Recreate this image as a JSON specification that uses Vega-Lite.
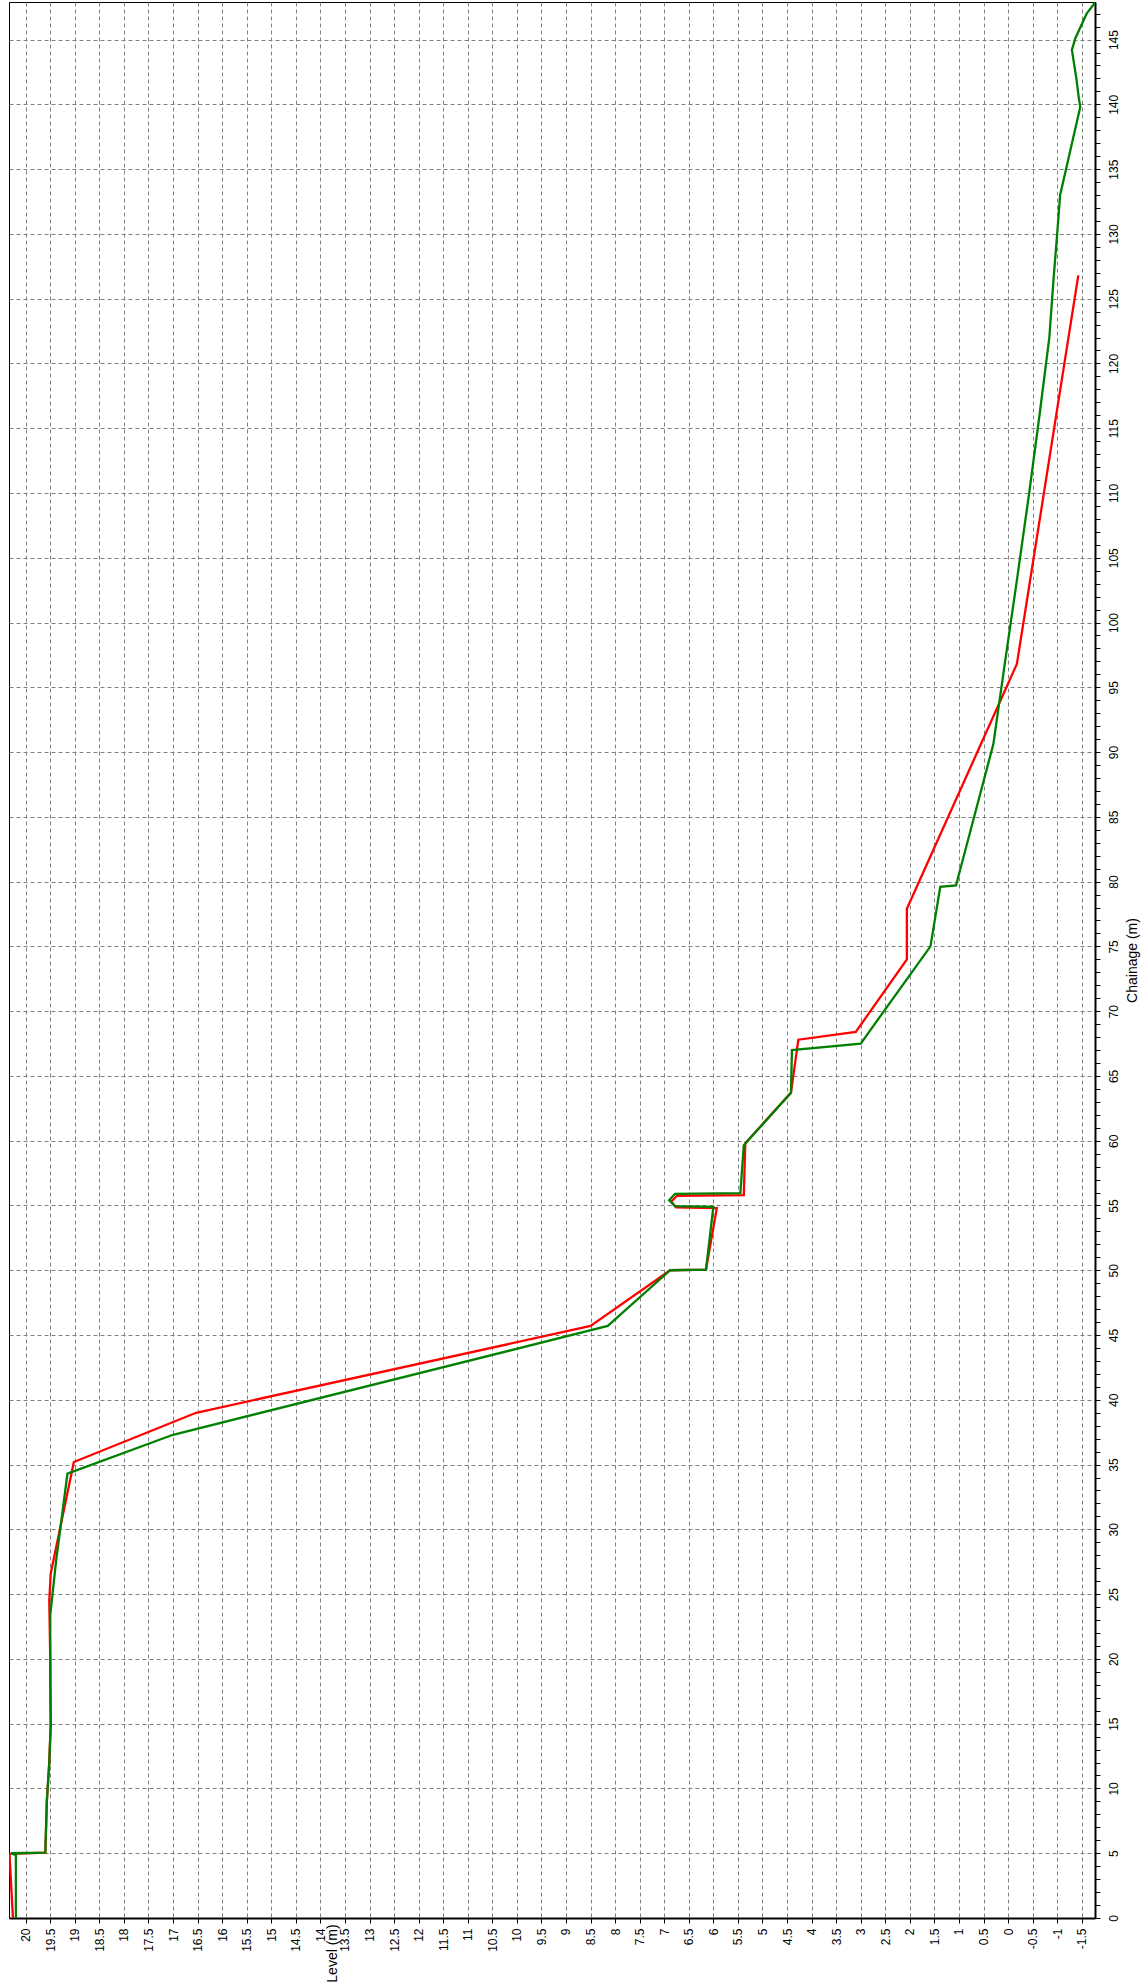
{
  "$schema": "https://vega.github.io/schema/vega-lite/v6.json",
  "width": 1086,
  "height": 1916,
  "autosize": {"type": "none"},
  "padding": {"left": 9, "top": 2, "right": 53, "bottom": 66},
  "background": "white",
  "config": {
    "view": {"stroke": "black", "strokeWidth": 1},
    "font": "Liberation Sans"
  },
  "datasets": {
    "red": [
      {"i": 1, "c": 0, "l": 20.26}, {"i": 2, "c": 4.95, "l": 20.33}, {"i": 3, "c": 5.05, "l": 19.6},
      {"i": 4, "c": 9, "l": 19.57}, {"i": 5, "c": 12, "l": 19.52}, {"i": 6, "c": 15, "l": 19.49},
      {"i": 7, "c": 20, "l": 19.5}, {"i": 8, "c": 24.5, "l": 19.52}, {"i": 9, "c": 26.6, "l": 19.49},
      {"i": 10, "c": 35.2, "l": 19.02}, {"i": 11, "c": 39.0, "l": 16.53}, {"i": 12, "c": 45.7, "l": 8.5},
      {"i": 13, "c": 50.0, "l": 6.88}, {"i": 14, "c": 50.05, "l": 6.15}, {"i": 15, "c": 54.8, "l": 5.93},
      {"i": 16, "c": 54.85, "l": 6.76}, {"i": 17, "c": 55.3, "l": 6.86}, {"i": 18, "c": 55.75, "l": 6.74},
      {"i": 19, "c": 55.8, "l": 5.38}, {"i": 20, "c": 59.8, "l": 5.35}, {"i": 21, "c": 63.7, "l": 4.42},
      {"i": 22, "c": 67.8, "l": 4.27}, {"i": 23, "c": 68.4, "l": 3.1}, {"i": 24, "c": 74.0, "l": 2.06},
      {"i": 25, "c": 77.9, "l": 2.06}, {"i": 26, "c": 96.8, "l": -0.18}, {"i": 27, "c": 126.8, "l": -1.43}
    ],
    "green": [
      {"i": 1, "c": 0, "l": 20.2}, {"i": 2, "c": 4.85, "l": 20.2}, {"i": 3, "c": 5.0, "l": 20.3},
      {"i": 4, "c": 5.05, "l": 19.6}, {"i": 5, "c": 9, "l": 19.57}, {"i": 6, "c": 12, "l": 19.52},
      {"i": 7, "c": 15, "l": 19.49}, {"i": 8, "c": 18, "l": 19.5}, {"i": 9, "c": 23.4, "l": 19.5},
      {"i": 10, "c": 27.6, "l": 19.38}, {"i": 11, "c": 34.3, "l": 19.15}, {"i": 12, "c": 37.3, "l": 17.0},
      {"i": 13, "c": 45.7, "l": 8.15}, {"i": 14, "c": 50.0, "l": 6.88}, {"i": 15, "c": 50.05, "l": 6.15},
      {"i": 16, "c": 54.9, "l": 6.0}, {"i": 17, "c": 54.95, "l": 6.78}, {"i": 18, "c": 55.4, "l": 6.9},
      {"i": 19, "c": 55.9, "l": 6.78}, {"i": 20, "c": 55.95, "l": 5.45}, {"i": 21, "c": 59.65, "l": 5.38},
      {"i": 22, "c": 63.7, "l": 4.42}, {"i": 23, "c": 67.0, "l": 4.4}, {"i": 24, "c": 67.5, "l": 3.0},
      {"i": 25, "c": 75.0, "l": 1.58}, {"i": 26, "c": 79.6, "l": 1.38}, {"i": 27, "c": 79.7, "l": 1.06},
      {"i": 28, "c": 90.6, "l": 0.3}, {"i": 29, "c": 97, "l": 0.06}, {"i": 30, "c": 103, "l": -0.17},
      {"i": 31, "c": 110, "l": -0.43}, {"i": 32, "c": 116, "l": -0.64}, {"i": 33, "c": 122, "l": -0.84},
      {"i": 34, "c": 126.7, "l": -0.93}, {"i": 35, "c": 130, "l": -1.0}, {"i": 36, "c": 133, "l": -1.06},
      {"i": 37, "c": 139.8, "l": -1.47}, {"i": 38, "c": 140.5, "l": -1.44}, {"i": 39, "c": 142, "l": -1.39},
      {"i": 40, "c": 144.2, "l": -1.3}, {"i": 41, "c": 145.1, "l": -1.37}, {"i": 42, "c": 147.0, "l": -1.6},
      {"i": 43, "c": 147.9, "l": -1.78}
    ]
  },
  "encoding": {
    "x": {
      "field": "l",
      "type": "quantitative",
      "scale": {"domain": [-1.77, 20.34], "reverse": true, "nice": false, "zero": false},
      "axis": {
        "orient": "bottom",
        "title": "Level (m)",
        "values": [-1.5, -1, -0.5, 0, 0.5, 1, 1.5, 2, 2.5, 3, 3.5, 4, 4.5, 5, 5.5, 6, 6.5, 7, 7.5, 8, 8.5, 9, 9.5, 10, 10.5, 11, 11.5, 12, 12.5, 13, 13.5, 14, 14.5, 15, 15.5, 16, 16.5, 17, 17.5, 18, 18.5, 19, 19.5, 20],
        "labelExpr": "'' + datum.value",
        "labelAngle": 270,
        "labelAlign": "right",
        "labelBaseline": "middle",
        "labelFontSize": 12,
        "labelFont": "Liberation Sans",
        "labelColor": "black",
        "labelPadding": 5,
        "labelOverlap": false,
        "labelFlush": false,
        "labelBound": false,
        "tickSize": 5,
        "tickColor": "black",
        "domainColor": "black",
        "domainWidth": 2,
        "grid": true,
        "gridColor": "#808080",
        "gridDash": [4, 3],
        "gridWidth": 1,
        "titleAngle": 270,
        "titleAlign": "center",
        "titleBaseline": "middle",
        "titleFont": "Liberation Sans",
        "titleFontSize": 14,
        "titleFontWeight": "normal",
        "titleColor": "black",
        "titleX": 323.5,
        "titleY": 35
      }
    },
    "y": {
      "field": "c",
      "type": "quantitative",
      "scale": {"domain": [0, 147.9], "nice": false, "zero": false},
      "axis": {
        "orient": "right",
        "title": "Chainage (m)",
        "values": [0,1,2,3,4,5,6,7,8,9,10,11,12,13,14,15,16,17,18,19,20,21,22,23,24,25,26,27,28,29,30,31,32,33,34,35,36,37,38,39,40,41,42,43,44,45,46,47,48,49,50,51,52,53,54,55,56,57,58,59,60,61,62,63,64,65,66,67,68,69,70,71,72,73,74,75,76,77,78,79,80,81,82,83,84,85,86,87,88,89,90,91,92,93,94,95,96,97,98,99,100,101,102,103,104,105,106,107,108,109,110,111,112,113,114,115,116,117,118,119,120,121,122,123,124,125,126,127,128,129,130,131,132,133,134,135,136,137,138,139,140,141,142,143,144,145,146,147],
        "labelExpr": "datum.value % 5 === 0 ? datum.label : ''",
        "labelAngle": 270,
        "labelAlign": "center",
        "labelBaseline": "top",
        "labelFontSize": 12,
        "labelFont": "Liberation Sans",
        "labelColor": "black",
        "labelPadding": 8,
        "labelOverlap": false,
        "labelFlush": false,
        "labelBound": false,
        "tickSize": 5,
        "tickColor": "black",
        "domainColor": "black",
        "domainWidth": 2,
        "grid": true,
        "gridColor": "#808080",
        "gridDash": [4, 3],
        "gridWidth": 1,
        "gridOpacity": {"condition": {"test": "datum.value % 5 === 0", "value": 1}, "value": 0},
        "titleAngle": 270,
        "titleAlign": "center",
        "titleBaseline": "top",
        "titleFont": "Liberation Sans",
        "titleFontSize": 14,
        "titleFontWeight": "normal",
        "titleColor": "black",
        "titlePadding": 6
      }
    },
    "order": {"field": "i", "type": "quantitative"}
  },
  "layer": [
    {
      "data": {"name": "red"},
      "mark": {"type": "line", "color": "#ff0000", "strokeWidth": 2.3, "clip": true}
    },
    {
      "data": {"name": "green"},
      "mark": {"type": "line", "color": "#008000", "strokeWidth": 2.3, "clip": true}
    }
  ]
}
